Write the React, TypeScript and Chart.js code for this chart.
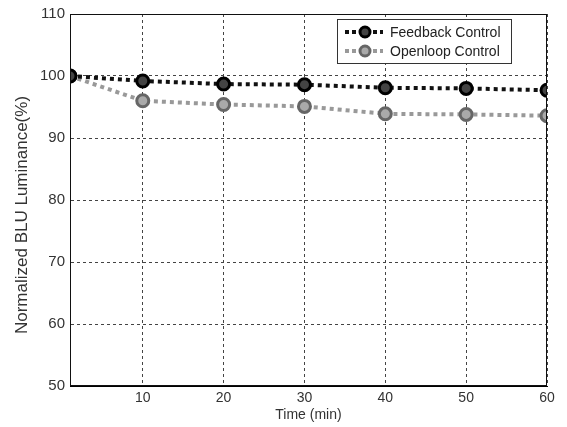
import React, { useEffect, useRef } from "react";
import { Chart, registerables } from "chart.js";

Chart.register(...registerables);

const timeMin = [1, 10, 20, 30, 40, 50, 60];
const feedback = [100, 99.2, 98.7, 98.6, 98.1, 98.0, 97.7];
const openloop = [100, 96.0, 95.4, 95.1, 93.9, 93.8, 93.6];
const xTicks = [10, 20, 30, 40, 50, 60];
const seriesNames = ["Feedback Control", "Openloop Control"];
const yTitle = "Normalized BLU Luminance(%)";
const xTitle = "Time (min)";

const FONT = "'Liberation Sans', Arial, sans-serif";

const boxPlugin = {
  id: "boxAndLegend",
  afterDraw(chart: any) {
    const { ctx, chartArea: a } = chart;
    ctx.save();
    ctx.strokeStyle = "#111";
    ctx.lineWidth = 1;
    ctx.setLineDash([]);
    ctx.strokeRect(a.left + 0.5, a.top + 0.5, a.right - a.left - 1, a.bottom - a.top - 1);
    // y title
    ctx.save();
    ctx.translate(22, 215);
    ctx.rotate(-Math.PI / 2);
    ctx.fillStyle = "#333";
    ctx.font = "17px " + FONT;
    ctx.textAlign = "center";
    ctx.textBaseline = "middle";
    ctx.fillText(yTitle, 0, 0);
    ctx.restore();
    // legend
    const lx = 337, ly = 19, lw = 174, lh = 44;
    ctx.fillStyle = "#fff";
    ctx.fillRect(lx, ly, lw, lh);
    ctx.strokeStyle = "#333";
    ctx.strokeRect(lx + 0.5, ly + 0.5, lw, lh);
    const items = [
      { name: seriesNames[0], color: "#111", fill: "#444", ring: "#000", y: ly + 13 },
      { name: seriesNames[1], color: "#999", fill: "#aaa", ring: "#666", y: ly + 32 },
    ];
    items.forEach((it) => {
      ctx.strokeStyle = it.color;
      ctx.lineWidth = 4;
      ctx.setLineDash([4, 3]);
      ctx.beginPath();
      ctx.moveTo(lx + 8, it.y);
      ctx.lineTo(lx + 46, it.y);
      ctx.stroke();
      ctx.setLineDash([]);
      ctx.beginPath();
      ctx.arc(lx + 28, it.y, 5, 0, Math.PI * 2);
      ctx.fillStyle = it.fill;
      ctx.fill();
      ctx.strokeStyle = it.ring;
      ctx.lineWidth = 3;
      ctx.stroke();
      ctx.fillStyle = "#222";
      ctx.font = "14px " + FONT;
      ctx.textBaseline = "middle";
      ctx.textAlign = "left";
      ctx.fillText(it.name, lx + 53, it.y + 1);
    });
    ctx.restore();
  },
};

export default function App() {
  const ref = useRef<HTMLCanvasElement>(null);
  useEffect(() => {
    document.body.style.margin = "0";
    const chart = new Chart(ref.current!, {
      type: "line",
      data: {
        datasets: [
          {
            label: seriesNames[0],
            data: timeMin.map((x, i) => ({ x, y: feedback[i] })),
            borderColor: "#111",
            borderWidth: 4,
            borderDash: [4, 4],
            pointRadius: 6,
            pointBorderWidth: 3,
            pointBackgroundColor: "#444",
            pointBorderColor: "#000",
            tension: 0,
          },
          {
            label: seriesNames[1],
            data: timeMin.map((x, i) => ({ x, y: openloop[i] })),
            borderColor: "#999",
            borderWidth: 4,
            borderDash: [4, 4],
            pointRadius: 6,
            pointBorderWidth: 3,
            pointBackgroundColor: "#aaa",
            pointBorderColor: "#666",
            tension: 0,
          },
        ],
      },
      options: {
        animation: false,
        responsive: false,
        maintainAspectRatio: false,
        layout: { padding: { top: 14, right: 20, left: 0, bottom: 0 } },
        plugins: { legend: { display: false }, tooltip: { enabled: false } },
        scales: {
          x: {
            type: "linear",
            min: 1,
            max: 60,
            afterBuildTicks: (s: any) => {
              s.ticks = xTicks.map((v) => ({ value: v }));
            },
            afterFit: (s: any) => {
              s.height = 41;
            },
            grid: { color: "#444", lineWidth: 1, drawTicks: false },
            border: { display: true, color: "#000", dash: [3, 3] },
            ticks: { color: "#333", font: { family: FONT, size: 14 }, padding: 4, maxRotation: 0 },
            title: { display: true, text: xTitle, color: "#333", font: { family: FONT, size: 14 }, padding: { top: 0, bottom: 3 } },
          },
          y: {
            min: 50,
            max: 110,
            ticks: { stepSize: 10, color: "#333", font: { family: FONT, size: 15 }, padding: 5 },
            afterFit: (s: any) => {
              s.width = 70;
            },
            grid: { color: "#444", lineWidth: 1, drawTicks: false },
            border: { display: true, color: "#000", dash: [3, 3] },
          },
        },
      },
      plugins: [boxPlugin],
    } as any);
    return () => chart.destroy();
  }, []);
  return (
    <div style={{ position: "absolute", left: 0, top: 0, width: 567, height: 427, background: "#fff" }}>
      <canvas ref={ref} width={567} height={427} style={{ width: 567, height: 427 }} />
    </div>
  );
}
